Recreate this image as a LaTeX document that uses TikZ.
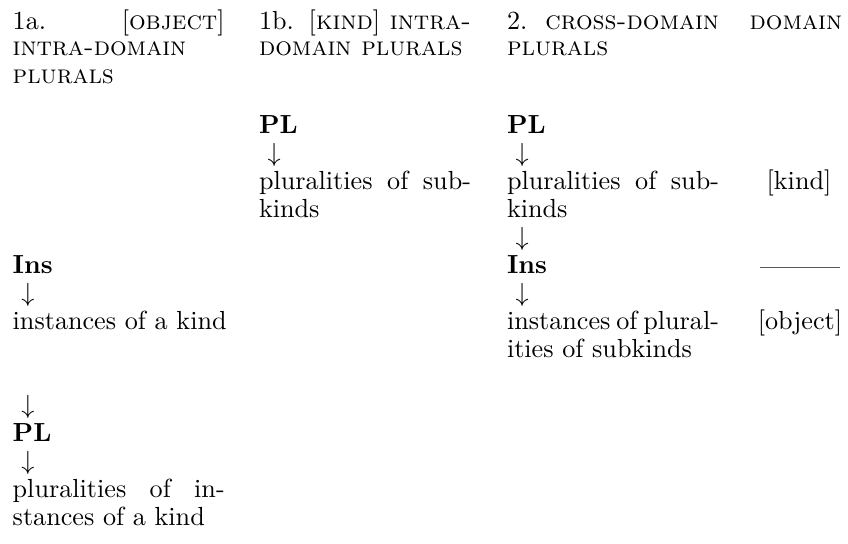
\documentclass[tikz,border=0pt]{standalone}
\usepackage{fontspec}
% width of one text column and of the wide heading of the third column
\newlength\colw \setlength\colw{81.05pt}
\newlength\hdw  \setlength\hdw{128.1pt}
\newcommand\just[2]{\hbox to #1{#2}}
\begin{document}
\begin{tikzpicture}[x=0.38226pt, y=-0.38226pt,
  txt/.style={anchor=base west, inner sep=0pt, outer sep=0pt},
  ctr/.style={anchor=base, inner sep=0pt, outer sep=0pt},
  arr/.style={anchor=base west, inner sep=0pt, outer sep=0pt, xshift=3.33pt},
  rulestyle/.style={line width=0.3pt, draw=black!65}]
\useasboundingbox (0,0) rectangle (848,544);

% column 1a
\node[txt] (h1a) at (12.7,29.3) {\just{\colw}{1a.\hfill[\textsc{object}]}};
\node[txt] (h1b) at (12.7,56)   {\textsc{intra-domain}};
\node[txt] (h1c) at (12.7,83.3) {\textsc{plurals}};
\node[txt] (a-ins)   at (12.7,274) {\textbf{Ins}};
\node[arr] (a-ar1)   at (12.7,302) {$\downarrow$};
\node[txt] (a-inst)  at (12.7,330) {instances of a kind};
\node[arr] (a-ar2)   at (12.7,414) {$\downarrow$};
\node[txt] (a-pl)    at (12.7,442) {\textbf{PL}};
\node[arr] (a-ar3)   at (12.7,470) {$\downarrow$};
\node[txt] (a-plur1) at (12.7,498) {\just{\colw}{pluralities of in-}};
\node[txt] (a-plur2) at (12.7,526) {stances of a kind};

% column 1b
\node[txt] (h2a) at (259,29.3) {\just{\colw}{1b. [\textsc{kind}] \textsc{intra-}}};
\node[txt] (h2b) at (259,56)   {\textsc{domain plurals}};
\node[txt] (b-pl)    at (259,134) {\textbf{PL}};
\node[arr] (b-ar1)   at (259,162) {$\downarrow$};
\node[txt] (b-plur1) at (259,190) {\just{\colw}{pluralities of sub-}};
\node[txt] (b-plur2) at (259,218) {kinds};

% column 2
\node[txt] (h3a) at (507,29.3) {\just{\hdw}{2.\hspace{6.9pt}\textsc{cross-domain}\hfill\textsc{domain}}};
\node[txt] (h3b) at (507,56)   {\textsc{plurals}};
\node[txt] (c-pl)    at (507,134) {\textbf{PL}};
\node[arr] (c-ar1)   at (507,162) {$\downarrow$};
\node[txt] (c-plur1) at (507,190) {\just{\colw}{pluralities of sub-}};
\node[txt] (c-plur2) at (507,218) {kinds};
\node[arr] (c-ar2)   at (507,246) {$\downarrow$};
\node[txt] (c-ins)   at (507,274) {\textbf{Ins}};
\node[arr] (c-ar3)   at (507,302) {$\downarrow$};
\node[txt] (c-inst1) at (507,330) {\just{\colw}{instances of plural-}};
\node[txt] (c-inst2) at (507,358) {ities of subkinds};

% domain labels and the rule between them
\node[ctr] (kind)   at (799,190) {[kind]};
\node[ctr] (object) at (800,330) {[object]};
\coordinate (r1) at (760,267);
\coordinate (r2) at (840,267);
\draw[rulestyle] (r1) -- (r2);
\end{tikzpicture}
\end{document}
